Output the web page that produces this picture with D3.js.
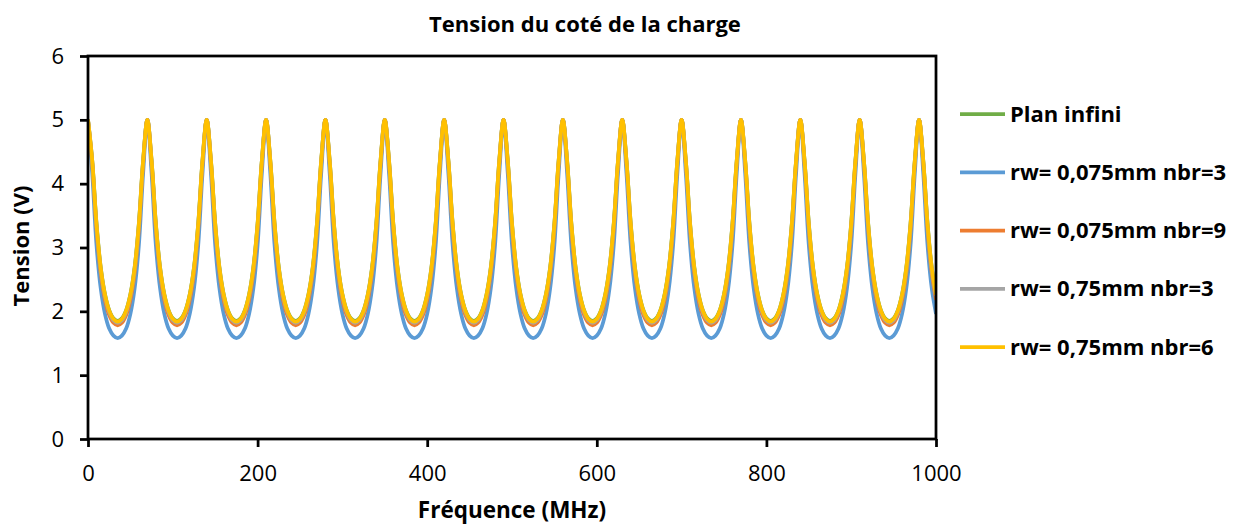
<!DOCTYPE html>
<html><head><meta charset="utf-8">
<script src="https://cdn.jsdelivr.net/npm/d3@7"></script>
<style>body{margin:0;background:#fff}svg{display:block}text{font-family:"Open Sans",Lato,sans-serif;fill:#000}</style>
</head><body><svg id="c" width="1243" height="525"></svg>
<script>
const title = "Tension du coté de la charge";
const xLabel = "Fréquence (MHz)";
const yLabel = "Tension (V)";
const xTicks = [0,200,400,600,800,1000];
const yTicks = [0,1,2,3,4,5,6];
const seriesNames = ["Plan infini","rw= 0,075mm nbr=3","rw= 0,075mm nbr=9","rw= 0,75mm nbr=3","rw= 0,75mm nbr=6"];
const seriesColors = ["#70AD47","#5B9BD5","#ED7D31","#A5A5A5","#FFC000"];

const freq = [0,5,10,15,20,25,30,35,40,45,50,55,60,65,
70,75,80,85,90,95,100,105,110,115,120,125,130,135,
140,145,150,155,160,165,170,175,180,185,190,195,200,205,
210,215,220,225,230,235,240,245,250,255,260,265,270,275,
280,285,290,295,300,305,310,315,320,325,330,335,340,345,
350,355,360,365,370,375,380,385,390,395,400,405,410,415,
420,425,430,435,440,445,450,455,460,465,470,475,480,485,
490,495,500,505,510,515,520,525,530,535,540,545,550,555,
560,565,570,575,580,585,590,595,600,605,610,615,620,625,
630,635,640,645,650,655,660,665,670,675,680,685,690,695,
700,705,710,715,720,725,730,735,740,745,750,755,760,765,
770,775,780,785,790,795,800,805,810,815,820,825,830,835,
840,845,850,855,860,865,870,875,880,885,890,895,900,905,
910,915,920,925,930,935,940,945,950,955,960,965,970,975,
980,985,990,995,1000];

const planInfini = [5,4.36,3.38,2.69,2.27,2.02,1.89,1.85,1.89,2.02,2.27,2.69,3.38,4.36,
5,4.36,3.38,2.69,2.27,2.02,1.89,1.85,1.89,2.02,2.27,2.69,3.38,4.36,
5,4.36,3.38,2.69,2.27,2.02,1.89,1.85,1.89,2.02,2.27,2.69,3.38,4.36,
5,4.36,3.38,2.69,2.27,2.02,1.89,1.85,1.89,2.02,2.27,2.69,3.38,4.36,
5,4.36,3.38,2.69,2.27,2.02,1.89,1.85,1.89,2.02,2.27,2.69,3.38,4.36,
5,4.36,3.38,2.69,2.27,2.02,1.89,1.85,1.89,2.02,2.27,2.69,3.38,4.36,
5,4.36,3.38,2.69,2.27,2.02,1.89,1.85,1.89,2.02,2.27,2.69,3.38,4.36,
5,4.36,3.38,2.69,2.27,2.02,1.89,1.85,1.89,2.02,2.27,2.69,3.38,4.36,
5,4.36,3.38,2.69,2.27,2.02,1.89,1.85,1.89,2.02,2.27,2.69,3.38,4.36,
5,4.36,3.38,2.69,2.27,2.02,1.89,1.85,1.89,2.02,2.27,2.69,3.38,4.36,
5,4.36,3.38,2.69,2.27,2.02,1.89,1.85,1.89,2.02,2.27,2.69,3.38,4.36,
5,4.36,3.38,2.69,2.27,2.02,1.89,1.85,1.89,2.02,2.27,2.69,3.38,4.36,
5,4.36,3.38,2.69,2.27,2.02,1.89,1.85,1.89,2.02,2.27,2.69,3.38,4.36,
5,4.36,3.38,2.69,2.27,2.02,1.89,1.85,1.89,2.02,2.27,2.69,3.38,4.36,
5,4.36,3.38,2.69,2.27];

const rw0075n3 = [5,4.16,3.04,2.36,1.96,1.73,1.62,1.58,1.62,1.73,1.96,2.36,3.04,4.16,
5,4.16,3.04,2.36,1.96,1.73,1.62,1.58,1.62,1.73,1.96,2.36,3.04,4.16,
5,4.16,3.04,2.36,1.96,1.73,1.62,1.58,1.62,1.73,1.96,2.36,3.04,4.16,
5,4.16,3.04,2.36,1.96,1.73,1.62,1.58,1.62,1.73,1.96,2.36,3.04,4.16,
5,4.16,3.04,2.36,1.96,1.73,1.62,1.58,1.62,1.73,1.96,2.36,3.04,4.16,
5,4.16,3.04,2.36,1.96,1.73,1.62,1.58,1.62,1.73,1.96,2.36,3.04,4.16,
5,4.16,3.04,2.36,1.96,1.73,1.62,1.58,1.62,1.73,1.96,2.36,3.04,4.16,
5,4.16,3.04,2.36,1.96,1.73,1.62,1.58,1.62,1.73,1.96,2.36,3.04,4.16,
5,4.16,3.04,2.36,1.96,1.73,1.62,1.58,1.62,1.73,1.96,2.36,3.04,4.16,
5,4.16,3.04,2.36,1.96,1.73,1.62,1.58,1.62,1.73,1.96,2.36,3.04,4.16,
5,4.16,3.04,2.36,1.96,1.73,1.62,1.58,1.62,1.73,1.96,2.36,3.04,4.16,
5,4.16,3.04,2.36,1.96,1.73,1.62,1.58,1.62,1.73,1.96,2.36,3.04,4.16,
5,4.16,3.04,2.36,1.96,1.73,1.62,1.58,1.62,1.73,1.96,2.36,3.04,4.16,
5,4.16,3.04,2.36,1.96,1.73,1.62,1.58,1.62,1.73,1.96,2.36,3.04,4.16,
5,4.16,3.04,2.36,1.96];

const rw0075n9 = [5,4.31,3.29,2.60,2.18,1.94,1.82,1.78,1.82,1.94,2.18,2.60,3.29,4.31,
5,4.31,3.29,2.60,2.18,1.94,1.82,1.78,1.82,1.94,2.18,2.60,3.29,4.31,
5,4.31,3.29,2.60,2.18,1.94,1.82,1.78,1.82,1.94,2.18,2.60,3.29,4.31,
5,4.31,3.29,2.60,2.18,1.94,1.82,1.78,1.82,1.94,2.18,2.60,3.29,4.31,
5,4.31,3.29,2.60,2.18,1.94,1.82,1.78,1.82,1.94,2.18,2.60,3.29,4.31,
5,4.31,3.29,2.60,2.18,1.94,1.82,1.78,1.82,1.94,2.18,2.60,3.29,4.31,
5,4.31,3.29,2.60,2.18,1.94,1.82,1.78,1.82,1.94,2.18,2.60,3.29,4.31,
5,4.31,3.29,2.60,2.18,1.94,1.82,1.78,1.82,1.94,2.18,2.60,3.29,4.31,
5,4.31,3.29,2.60,2.18,1.94,1.82,1.78,1.82,1.94,2.18,2.60,3.29,4.31,
5,4.31,3.29,2.60,2.18,1.94,1.82,1.78,1.82,1.94,2.18,2.60,3.29,4.31,
5,4.31,3.29,2.60,2.18,1.94,1.82,1.78,1.82,1.94,2.18,2.60,3.29,4.31,
5,4.31,3.29,2.60,2.18,1.94,1.82,1.78,1.82,1.94,2.18,2.60,3.29,4.31,
5,4.31,3.29,2.60,2.18,1.94,1.82,1.78,1.82,1.94,2.18,2.60,3.29,4.31,
5,4.31,3.29,2.60,2.18,1.94,1.82,1.78,1.82,1.94,2.18,2.60,3.29,4.31,
5,4.31,3.29,2.60,2.18];

const rw075n3 = [5,4.34,3.35,2.66,2.24,1.99,1.86,1.82,1.86,1.99,2.24,2.66,3.35,4.34,
5,4.34,3.35,2.66,2.24,1.99,1.86,1.82,1.86,1.99,2.24,2.66,3.35,4.34,
5,4.34,3.35,2.66,2.24,1.99,1.86,1.82,1.86,1.99,2.24,2.66,3.35,4.34,
5,4.34,3.35,2.66,2.24,1.99,1.86,1.82,1.86,1.99,2.24,2.66,3.35,4.34,
5,4.34,3.35,2.66,2.24,1.99,1.86,1.82,1.86,1.99,2.24,2.66,3.35,4.34,
5,4.34,3.35,2.66,2.24,1.99,1.86,1.82,1.86,1.99,2.24,2.66,3.35,4.34,
5,4.34,3.35,2.66,2.24,1.99,1.86,1.82,1.86,1.99,2.24,2.66,3.35,4.34,
5,4.34,3.35,2.66,2.24,1.99,1.86,1.82,1.86,1.99,2.24,2.66,3.35,4.34,
5,4.34,3.35,2.66,2.24,1.99,1.86,1.82,1.86,1.99,2.24,2.66,3.35,4.34,
5,4.34,3.35,2.66,2.24,1.99,1.86,1.82,1.86,1.99,2.24,2.66,3.35,4.34,
5,4.34,3.35,2.66,2.24,1.99,1.86,1.82,1.86,1.99,2.24,2.66,3.35,4.34,
5,4.34,3.35,2.66,2.24,1.99,1.86,1.82,1.86,1.99,2.24,2.66,3.35,4.34,
5,4.34,3.35,2.66,2.24,1.99,1.86,1.82,1.86,1.99,2.24,2.66,3.35,4.34,
5,4.34,3.35,2.66,2.24,1.99,1.86,1.82,1.86,1.99,2.24,2.66,3.35,4.34,
5,4.34,3.35,2.66,2.24];

const rw075n6 = [5,4.36,3.37,2.68,2.26,2.01,1.88,1.84,1.88,2.01,2.26,2.68,3.37,4.36,
5,4.36,3.37,2.68,2.26,2.01,1.88,1.84,1.88,2.01,2.26,2.68,3.37,4.36,
5,4.36,3.37,2.68,2.26,2.01,1.88,1.84,1.88,2.01,2.26,2.68,3.37,4.36,
5,4.36,3.37,2.68,2.26,2.01,1.88,1.84,1.88,2.01,2.26,2.68,3.37,4.36,
5,4.36,3.37,2.68,2.26,2.01,1.88,1.84,1.88,2.01,2.26,2.68,3.37,4.36,
5,4.36,3.37,2.68,2.26,2.01,1.88,1.84,1.88,2.01,2.26,2.68,3.37,4.36,
5,4.36,3.37,2.68,2.26,2.01,1.88,1.84,1.88,2.01,2.26,2.68,3.37,4.36,
5,4.36,3.37,2.68,2.26,2.01,1.88,1.84,1.88,2.01,2.26,2.68,3.37,4.36,
5,4.36,3.37,2.68,2.26,2.01,1.88,1.84,1.88,2.01,2.26,2.68,3.37,4.36,
5,4.36,3.37,2.68,2.26,2.01,1.88,1.84,1.88,2.01,2.26,2.68,3.37,4.36,
5,4.36,3.37,2.68,2.26,2.01,1.88,1.84,1.88,2.01,2.26,2.68,3.37,4.36,
5,4.36,3.37,2.68,2.26,2.01,1.88,1.84,1.88,2.01,2.26,2.68,3.37,4.36,
5,4.36,3.37,2.68,2.26,2.01,1.88,1.84,1.88,2.01,2.26,2.68,3.37,4.36,
5,4.36,3.37,2.68,2.26,2.01,1.88,1.84,1.88,2.01,2.26,2.68,3.37,4.36,
5,4.36,3.37,2.68,2.26];

const seriesValues = [planInfini, rw0075n3, rw0075n9, rw075n3, rw075n6];

const svg = d3.select("#c");
const L = 88, R = 936, T = 56, B = 439;
const x = d3.scaleLinear().domain([0,1000]).range([L,R]);
const y = d3.scaleLinear().domain([0,6]).range([B,T]);

svg.append("clipPath").attr("id","clip").append("rect")
  .attr("x",L).attr("y",T-10).attr("width",R-L).attr("height",B-T+10);
const line = d3.line().x(d=>x(d[0])).y(d=>y(d[1])).curve(d3.curveCatmullRom.alpha(0.5));
const g = svg.append("g").attr("clip-path","url(#clip)");
seriesValues.forEach((vals,i)=>{
  g.append("path").datum(freq.map((f,j)=>[f,vals[j]]))
    .attr("d",line).attr("fill","none")
    .attr("stroke",seriesColors[i]).attr("stroke-width",3.75)
    .attr("stroke-linejoin","round");
});

svg.append("rect").attr("x",L).attr("y",T).attr("width",R-L).attr("height",B-T)
  .attr("fill","none").attr("stroke","#000").attr("stroke-width",2.75);

const xAxis = svg.append("g").attr("transform",`translate(0,${B})`)
  .call(d3.axisBottom(x).tickValues(xTicks).tickSize(8).tickPadding(18).tickFormat(d3.format("d")));
const yAxis = svg.append("g").attr("transform",`translate(${L},0)`)
  .call(d3.axisLeft(y).tickValues(yTicks).tickSize(8).tickPadding(16).tickFormat(d3.format("d")));
[xAxis,yAxis].forEach(a=>{
  a.select(".domain").remove();
  a.selectAll(".tick line").attr("stroke","#000").attr("stroke-width",2.75);
  a.selectAll(".tick text").attr("font-size",22).attr("fill","#000")
    .attr("font-family","'Open Sans',sans-serif");
});

svg.append("text").attr("x",585).attr("y",32).attr("text-anchor","middle")
  .attr("font-size",22).attr("font-weight","bold").text(title);
svg.append("text").attr("x",512).attr("y",518).attr("text-anchor","middle")
  .attr("font-size",22.5).attr("font-weight","bold").text(xLabel);
svg.append("text").attr("transform","translate(29,246) rotate(-90)").attr("text-anchor","middle")
  .attr("font-size",22).attr("font-weight","bold").text(yLabel);

const legY = d3.scaleLinear().domain([0,4]).range([114,347]);
seriesNames.forEach((n,i)=>{
  const yy = legY(i);
  svg.append("line").attr("x1",960).attr("x2",1005).attr("y1",yy).attr("y2",yy)
    .attr("stroke",seriesColors[i]).attr("stroke-width",3.75);
  svg.append("text").attr("x",1010).attr("y",yy+7.5).attr("font-size",22)
    .attr("font-weight","bold").text(n);
});
</script></body></html>
